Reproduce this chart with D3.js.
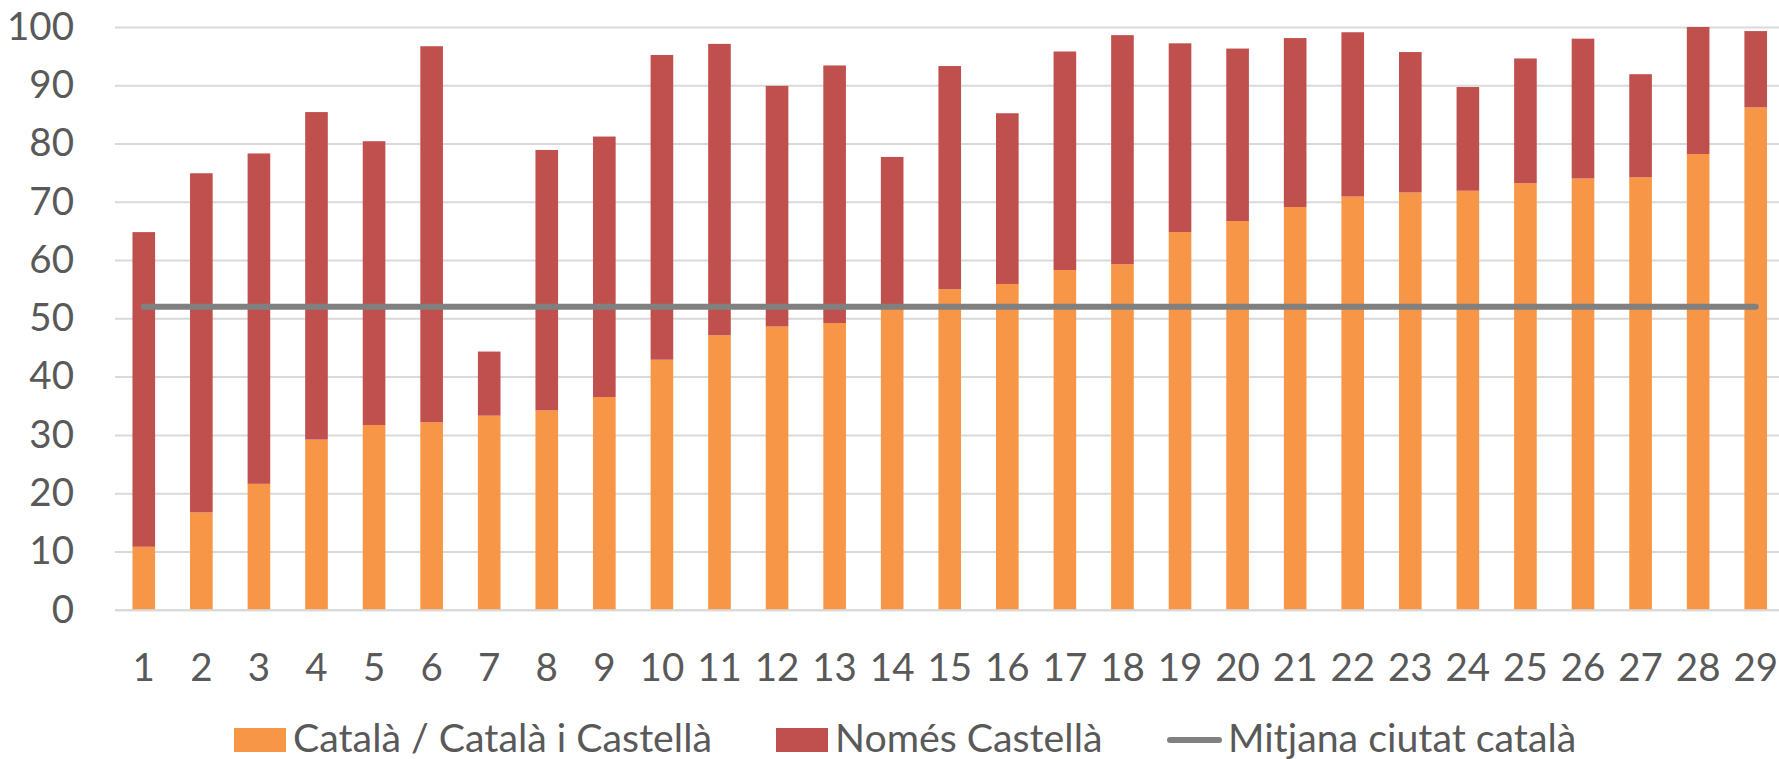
<!DOCTYPE html>
<html>
<head>
<meta charset="utf-8">
<script src="https://cdn.jsdelivr.net/npm/d3@7"></script>
<style>
  html, body { margin: 0; padding: 0; background: #ffffff; overflow: hidden; }
  svg { display: block; font-family: Lato, "Open Sans", sans-serif; }
</style>
</head>
<body>
<svg id="chart" width="1779" height="759"></svg>
<script>
// Neighbourhoods (numbered) and language shares, in %
const categories = ["1","2","3","4","5","6","7","8","9","10","11","12","13","14","15",
                    "16","17","18","19","20","21","22","23","24","25","26","27","28","29"];
const catalaValues = [10.8, 16.7, 21.6, 29.2, 31.7, 32.2, 33.3, 34.2, 36.5, 42.9,
                      47.1, 48.6, 49.2, 52.0, 55.0, 55.9, 58.3, 59.3, 64.8, 66.7,
                      69.1, 70.9, 71.6, 71.9, 73.2, 74.0, 74.2, 78.2, 86.2];
const nomesCastellaValues = [54.0, 58.2, 56.7, 56.2, 48.7, 64.5, 11.0, 44.7, 44.7, 52.3,
                             50.0, 41.3, 44.2, 25.7, 38.3, 29.3, 37.5, 39.3, 32.4, 29.6,
                             29.0, 28.2, 24.1, 17.8, 21.4, 24.0, 17.7, 21.8, 13.1];
const mitjanaValues = [52, 52, 52, 52, 52, 52, 52, 52, 52, 52, 52, 52, 52, 52, 52,
                       52, 52, 52, 52, 52, 52, 52, 52, 52, 52, 52, 52, 52, 52];
const yTicks = [0, 10, 20, 30, 40, 50, 60, 70, 80, 90, 100];
const seriesNames = ["Català / Català i Castellà", "Només Castellà", "Mitjana ciutat català"];

const colOrange = "#F79646", colRed = "#C0504D", colLine = "#808080";
const colText = "#595959", colGrid = "#D9D9D9";

const svg = d3.select("#chart");
const plotLeft = 115, plotRight = 1784.5, plotTop = 27, plotBottom = 609.7;

const x = d3.scaleBand()
  .domain(categories)
  .range([plotLeft, plotRight])
  .paddingInner(0.607)
  .paddingOuter(0.3035);

const y = d3.scaleLinear().domain([0, 100]).range([plotBottom, plotTop]);

// horizontal gridlines
const yAxis = d3.axisLeft(y).tickValues(yTicks).tickSize(-(plotRight - plotLeft)).tickPadding(41);
const gy = svg.append("g").attr("transform", `translate(${plotLeft},0)`).call(yAxis);
gy.select(".domain").remove();
gy.selectAll(".tick line").attr("stroke", colGrid).attr("stroke-width", 2);
gy.selectAll(".tick text")
  .attr("fill", colText)
  .attr("font-size", 38.5)
  .attr("font-family", "Lato, sans-serif");

// stacked bars
const rows = categories.map((c, i) => ({ cat: c, a: catalaValues[i], b: nomesCastellaValues[i] }));
const stack = d3.stack().keys(["a", "b"]);
const stacked = stack(rows);
const colours = [colOrange, colRed];

svg.append("g").selectAll("g")
  .data(stacked)
  .join("g")
  .attr("fill", (d, i) => colours[i])
  .selectAll("rect")
  .data(d => d)
  .join("rect")
  .attr("x", d => x(d.data.cat))
  .attr("width", x.bandwidth())
  .attr("y", d => y(d[1]))
  .attr("height", d => y(d[0]) - y(d[1]));

// category axis
const xAxis = d3.axisBottom(x).tickSize(0).tickPadding(44);
const gx = svg.append("g").attr("transform", `translate(0,${plotBottom})`).call(xAxis);
gx.select(".domain").attr("stroke", colGrid).attr("stroke-width", 2);
gx.selectAll(".tick text")
  .attr("fill", colText)
  .attr("font-size", 38.5)
  .attr("font-family", "Lato, sans-serif");

// city average line
const line = d3.line()
  .x((d, i) => x(categories[i]) + x.bandwidth() / 2)
  .y(d => y(d));
svg.append("path")
  .datum(mitjanaValues)
  .attr("d", line)
  .attr("fill", "none")
  .attr("stroke", colLine)
  .attr("stroke-width", 6)
  .attr("stroke-linecap", "round");

// legend
const legend = svg.append("g").attr("font-size", 39.3).attr("fill", colText);
const legendY = 740;
const items = [
  { name: seriesNames[0], kind: "rect", colour: colOrange, x0: 234, tx: 293 },
  { name: seriesNames[1], kind: "rect", colour: colRed, x0: 776, tx: 835 },
  { name: seriesNames[2], kind: "line", colour: colLine, x0: 1167, tx: 1228 }
];
items.forEach(it => {
  if (it.kind === "rect") {
    legend.append("rect")
      .attr("x", it.x0).attr("y", legendY - 12)
      .attr("width", 52).attr("height", 24)
      .attr("fill", it.colour);
  } else {
    legend.append("line")
      .attr("x1", it.x0 + 3).attr("x2", it.x0 + 52)
      .attr("y1", legendY).attr("y2", legendY)
      .attr("stroke", it.colour).attr("stroke-width", 6)
      .attr("stroke-linecap", "round");
  }
  legend.append("text")
    .attr("x", it.tx).attr("y", 752.3)
    .attr("fill", colText)
    .text(it.name);
});
</script>
</body>
</html>
